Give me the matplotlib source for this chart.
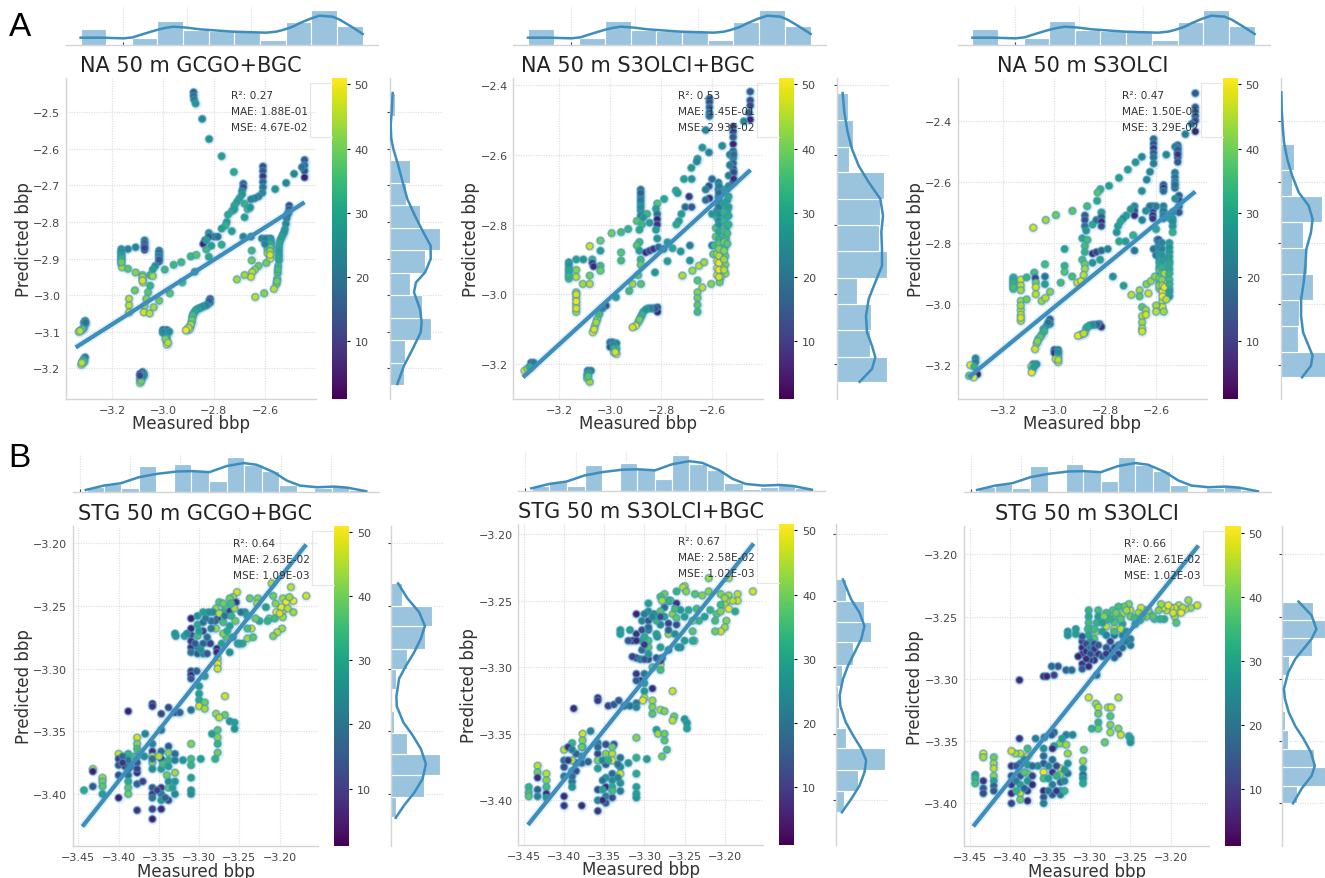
import matplotlib
matplotlib.use("Agg")
import matplotlib.pyplot as plt
from matplotlib.lines import Line2D
import numpy as np

W, H = 1325, 879

# ---------- shared marginal data (measured bbp) ----------
NA_TOP_EDGES = [-3.334, -3.254, -3.173, -3.093, -3.012, -2.932, -2.851, -2.771, -2.690, -2.610, -2.529, -2.448]
NA_TOP_COUNTS = [48, 0, 20, 73, 45, 43, 42, 14, 70, 104, 58]
NA_TOP_KDE_X = [-3.334, -3.272, -3.199, -3.170, -3.147, -3.120, -3.095, -3.070, -3.043, -3.000, -2.959, -2.855,
                -2.751, -2.720, -2.699, -2.670, -2.647, -2.615, -2.584, -2.543, -2.520, -2.501, -2.475, -2.448]
NA_TOP_KDE_Y = [22, 22, 20, 23, 30, 38, 45, 51, 55, 52, 47, 40, 37, 40, 45, 54, 65, 78, 88, 85, 76, 65, 50, 33]

STG_TOP_EDGES = [-3.443, -3.426, -3.409, -3.391, -3.374, -3.356, -3.339, -3.321, -3.304, -3.287,
                 -3.269, -3.252, -3.234, -3.217, -3.199, -3.182, -3.164]
STG_TOP_COUNTS = [15, 25, 14, 77, 2, 83, 67, 33, 105, 80, 62, 22, 5, 12, 20, 7]
STG_TOP_KDE_X = [-3.444, -3.426, -3.409, -3.391, -3.373, -3.353, -3.338, -3.321, -3.304, -3.287, -3.274,
                 -3.257, -3.244, -3.231, -3.214, -3.197, -3.184, -3.165]
STG_TOP_KDE_Y = [7, 20, 27, 45, 55, 62, 63, 60, 78, 87, 82, 60, 35, 20, 15, 17, 14, 3]

NA_XLIM = (-3.38, -2.40)
STG_XLIM = (-3.457, -3.152)
NA_XTICKS = [-3.2, -3.0, -2.8, -2.6]
STG_XTICKS = [-3.45, -3.40, -3.35, -3.30, -3.25, -3.20]
CBAR_TICKS = [10, 20, 30, 40, 50]

# ---------- panel 1: NA GCGO+BGC ----------
P1_TITLE = "NA 50 m GCGO+BGC"
P1_STATS = ["R\u00b2: 0.27", "MAE: 1.88E-01", "MSE: 4.67E-02"]
P1_YLIM = (-3.284, -2.406)
P1_YTICKS = [-3.2, -3.1, -3.0, -2.9, -2.8, -2.7, -2.6, -2.5]
P1_REG_X = [-3.342, -2.445]
P1_REG_Y = [-3.143, -2.746]
P1_RIGHT_EDGES = [-3.2457, -3.1843, -3.1229, -3.0614, -3.0000, -2.9386, -2.8771, -2.8157, -2.7543, -2.6929, -2.6314, -2.5700, -2.5086, -2.4470]
P1_RIGHT_COUNTS = [42, 45, 122, 95, 60, 104, 150, 91, 48, 60, 0, 0, 14]
P1_KDE_Y = [-3.243, -3.193, -3.147, -3.102, -3.074, -3.038, -2.992, -2.965, -2.938, -2.901, -2.865, -2.828, -2.783,
            -2.737, -2.691, -2.646, -2.600, -2.573, -2.536, -2.500, -2.447]
P1_KDE_X = [22, 42, 68, 92, 95, 90, 72, 78, 105, 122, 122, 100, 75, 52, 38, 25, 10, 4, 2, 5, 8]
P1_PTS = [(-2.88,-2.445,15),(-2.88,-2.455,18),(-2.878,-2.465,22),(-2.872,-2.476,28),(-2.846,-2.518,25),(-2.819,-2.573,27),
(-2.77,-2.62,30),(-2.722,-2.663,32),(-2.608,-2.648,12),(-2.608,-2.66,15),(-2.608,-2.675,8),(-2.608,-2.69,18),(-2.608,-2.705,20),
(-2.61,-2.72,25),(-2.625,-2.73,24),(-2.64,-2.735,22),(-2.655,-2.738,24),(-2.445,-2.63,15),(-2.445,-2.645,18),(-2.445,-2.66,12),
(-2.445,-2.678,5),(-2.455,-2.65,20),(-2.486,-2.668,24),(-2.517,-2.693,24),(-2.56,-2.71,28),(-2.685,-2.695,18),(-2.685,-2.705,10),
(-2.69,-2.715,25),(-2.69,-2.725,28),(-2.70,-2.735,30),(-2.71,-2.745,30),(-2.72,-2.755,32),(-2.73,-2.77,34),(-2.745,-2.78,32),
(-2.72,-2.765,30),(-2.68,-2.75,34),(-2.668,-2.765,35),(-2.658,-2.76,28),(-2.68,-2.787,30),(-2.75,-2.80,30),(-2.755,-2.81,34),
(-2.73,-2.825,30),(-2.77,-2.818,30),(-2.82,-2.83,28),(-2.80,-2.84,22),(-2.785,-2.84,20),(-2.82,-2.84,15),(-2.835,-2.85,6),
(-2.842,-2.86,5),(-2.83,-2.85,30),(-2.81,-2.865,30),(-2.83,-2.875,35),(-2.77,-2.862,33),(-2.82,-2.895,32),(-2.685,-2.84,24),
(-2.655,-2.84,25),(-2.612,-2.845,22),(-2.505,-2.755,12),(-2.505,-2.765,14),(-2.508,-2.775,18),(-2.515,-2.79,22),(-2.518,-2.805,25),
(-2.522,-2.82,28),(-2.53,-2.835,30),(-2.54,-2.85,30),(-2.545,-2.87,32),(-2.545,-2.89,30),(-2.545,-2.905,32),(-2.548,-2.92,35),
(-2.55,-2.94,37),(-2.552,-2.955,38),(-2.555,-2.97,42),(-2.565,-2.983,46),(-2.59,-2.845,22),(-2.578,-2.845,25),(-2.59,-2.855,28),
(-2.575,-2.855,30),(-2.59,-2.865,34),(-2.575,-2.865,38),(-2.59,-2.875,38),(-2.575,-2.875,42),(-2.59,-2.885,44),(-2.575,-2.885,46),
(-2.58,-2.895,48),(-2.58,-2.90,50),(-2.652,-2.878,35),(-2.652,-2.905,40),(-2.595,-2.912,40),(-2.625,-2.92,40),(-2.64,-2.93,43),
(-2.65,-2.937,46),(-2.655,-2.95,48),(-2.68,-2.945,44),(-2.71,-2.957,44),(-2.603,-2.995,42),(-2.638,-3.005,46),(-2.815,-3.01,12),
(-2.815,-3.02,18),(-2.825,-3.025,22),(-2.84,-3.03,26),(-2.855,-3.035,28),(-2.87,-3.04,30),(-2.88,-3.05,34),(-2.885,-3.06,38),
(-2.888,-3.075,42),(-2.893,-3.085,46),(-2.905,-3.095,48),(-2.895,-3.093,50),(-3.0,-3.095,12),(-2.985,-3.095,18),(-2.99,-3.10,8),
(-2.985,-3.105,25),(-2.985,-3.115,35),(-2.985,-3.125,44),(-2.985,-3.135,50),(-3.163,-2.874,25),(-3.163,-2.885,28),(-3.163,-2.895,32),
(-3.163,-2.905,38),(-3.163,-2.915,42),(-3.16,-2.924,44),(-3.137,-2.874,24),(-3.107,-2.869,24),(-3.072,-2.85,20),(-3.072,-2.858,14),
(-3.072,-2.866,8),(-3.072,-2.876,5),(-3.137,-2.928,38),(-3.107,-2.938,42),(-3.08,-2.945,42),(-3.08,-2.955,46),(-3.078,-2.965,50),
(-3.11,-2.987,40),(-3.133,-3.01,46),(-3.133,-3.028,46),(-3.133,-3.047,48),(-3.015,-2.878,16),(-3.015,-2.888,20),(-3.015,-2.898,22),
(-3.015,-2.908,10),(-3.03,-2.92,26),(-3.04,-2.93,30),(-3.05,-2.945,36),(-3.04,-2.948,44),(-3.05,-2.974,34),(-3.058,-2.992,38),
(-3.065,-3.01,42),(-3.072,-3.03,44),(-3.075,-3.047,48),(-3.052,-3.05,46),(-3.036,-3.033,44),(-3.015,-3.015,40),(-2.993,-2.93,35),
(-2.958,-2.917,35),(-2.928,-2.91,35),(-2.891,-2.894,35),(-2.869,-2.89,38),(-2.973,-2.995,38),(-2.924,-2.965,35),(-2.875,-2.936,30),
(-3.305,-3.07,22),(-3.305,-3.08,26),(-3.31,-3.09,34),(-3.32,-3.095,42),(-3.33,-3.10,48),(-3.305,-3.17,15),(-3.31,-3.175,28),
(-3.315,-3.18,40),(-3.32,-3.19,48),(-3.08,-3.21,12),(-3.075,-3.215,18),(-3.09,-3.215,6),(-3.08,-3.225,25),(-3.09,-3.23,35),(-3.09,-3.24,45),
(-2.818,-3.015,16),(-2.83,-3.028,24),(-2.848,-3.033,26),(-2.862,-3.037,30),(-2.875,-3.045,32),(-2.883,-3.055,36),(-2.886,-3.068,40),
(-2.89,-3.08,44),(-2.9,-3.09,48),(-2.91,-3.096,50),(-3.0,-3.103,20),(-3.0,-3.1,26),(-2.975,-3.1,26),(-2.99,-3.12,42),(-2.98,-3.13,46),
(-3.31,-3.075,24),(-3.315,-3.093,38),(-3.325,-3.098,46),(-3.303,-3.075,20),(-3.308,-3.182,36),(-3.318,-3.185,46),(-3.085,-3.22,20),
(-3.085,-3.235,40),(-3.075,-3.22,25),(-3.09,-3.22,10),(-2.513,-2.78,20),(-2.525,-2.828,28),(-2.535,-2.842,30),(-2.543,-2.86,32),
(-2.545,-2.88,30),(-2.546,-2.898,32),(-2.55,-2.93,36),(-2.553,-2.962,40),(-2.58,-2.85,30),(-2.58,-2.86,34),(-2.58,-2.87,40),
(-2.58,-2.88,44),(-2.58,-2.89,48),(-2.6,-2.846,22),(-2.6,-2.86,24),(-3.163,-2.88,26),(-3.163,-2.89,30),(-3.163,-2.9,34),(-3.163,-2.91,40),
(-3.08,-2.95,44),(-3.08,-2.96,48),(-3.072,-2.871,10),(-3.015,-2.883,18),(-3.015,-2.893,22),(-3.015,-2.903,14)]

# ---------- panel 2: NA S3OLCI+BGC ----------
P2_TITLE = "NA 50 m S3OLCI+BGC"
P2_STATS = ["R\u00b2: 0.53", "MAE: 1.45E-01", "MSE: 2.93E-02"]
P2_YLIM = (-3.299, -2.381)
P2_YTICKS = [-3.2, -3.0, -2.8, -2.6, -2.4]
P2_REG_X = [-3.342, -2.449]
P2_REG_Y = [-3.237, -2.644]
P2_RIGHT_EDGES = [-3.250, -3.178, -3.102, -3.026, -2.952, -2.875, -2.801, -2.728, -2.651, -2.577, -2.502, -2.424]
P2_RIGHT_COUNTS = [150, 100, 103, 60, 150, 125, 128, 140, 36, 47, 32]
P2_KDE_Y = [-3.250, -3.213, -3.180, -3.147, -3.108, -3.061, -3.013, -2.965, -2.918, -2.870, -2.822, -2.775, -2.727,
            -2.679, -2.632, -2.584, -2.536, -2.479, -2.424]
P2_KDE_X = [68, 105, 115, 105, 90, 87, 95, 115, 135, 135, 133, 138, 130, 95, 65, 45, 32, 22, 17]
P2_PTS = [(-2.45,-2.42,15),(-2.45,-2.445,12),(-2.45,-2.46,10),(-2.455,-2.48,15),(-2.45,-2.50,5),(-2.475,-2.505,24),
(-2.61,-2.44,15),(-2.61,-2.45,12),(-2.61,-2.465,16),(-2.61,-2.48,15),(-2.61,-2.49,18),(-2.625,-2.53,24),(-2.638,-2.58,28),
(-2.612,-2.594,24),(-2.657,-2.612,28),(-2.66,-2.62,25),(-2.681,-2.638,28),(-2.71,-2.67,30),(-2.68,-2.67,28),(-2.742,-2.703,32),
(-2.735,-2.71,30),(-2.788,-2.727,32),(-2.517,-2.52,8),(-2.517,-2.535,12),(-2.517,-2.55,15),(-2.517,-2.57,5),(-2.517,-2.59,18),
(-2.53,-2.60,22),(-2.517,-2.61,20),(-2.517,-2.625,15),(-2.517,-2.64,10),(-2.517,-2.655,3),(-2.517,-2.68,8),(-2.53,-2.63,22),
(-2.56,-2.575,26),(-2.60,-2.67,18),(-2.612,-2.69,12),(-2.625,-2.70,22),(-2.61,-2.725,6),(-2.625,-2.73,18),(-2.575,-2.68,22),
(-2.575,-2.70,15),(-2.575,-2.72,28),(-2.575,-2.74,24),(-2.56,-2.70,26),(-2.545,-2.70,30),(-2.54,-2.73,28),(-2.54,-2.76,30),
(-2.58,-2.76,24),(-2.60,-2.77,28),(-2.56,-2.75,34),(-2.535,-2.72,32),(-2.58,-2.78,34),(-2.56,-2.78,36),(-2.545,-2.78,30),
(-2.545,-2.81,32),(-2.565,-2.81,40),(-2.585,-2.81,38),(-2.60,-2.86,22),(-2.585,-2.835,40),(-2.565,-2.835,42),(-2.545,-2.84,36),
(-2.59,-2.86,36),(-2.57,-2.86,44),(-2.55,-2.865,38),(-2.595,-2.885,40),(-2.58,-2.885,48),(-2.56,-2.885,46),(-2.548,-2.89,40),
(-2.58,-2.905,50),(-2.565,-2.905,46),(-2.548,-2.915,42),(-2.58,-2.925,50),(-2.56,-2.925,48),(-2.548,-2.94,44),(-2.58,-2.945,50),
(-2.565,-2.95,44),(-2.57,-2.965,40),(-2.603,-2.97,42),(-2.88,-2.70,20),(-2.88,-2.72,18),(-2.88,-2.74,24),(-2.88,-2.76,28),
(-2.88,-2.775,22),(-2.815,-2.74,38),(-2.82,-2.755,30),(-2.815,-2.77,20),(-2.815,-2.785,5),(-2.815,-2.80,8),(-2.815,-2.84,28),
(-2.82,-2.815,30),(-2.855,-2.77,35),(-2.87,-2.78,28),(-2.845,-2.795,30),(-2.895,-2.79,38),(-2.875,-2.80,35),(-2.885,-2.815,32),
(-2.885,-2.85,35),(-2.895,-2.86,38),(-2.885,-2.875,30),(-2.88,-2.90,35),(-2.88,-2.915,40),(-2.89,-2.945,38),(-2.86,-2.88,6),
(-2.845,-2.875,10),(-2.83,-2.87,8),(-2.81,-2.865,18),(-2.79,-2.87,24),(-2.775,-2.851,30),(-2.755,-2.868,32),(-2.723,-2.877,28),
(-2.687,-2.86,22),(-2.687,-2.903,28),(-2.775,-2.905,30),(-2.824,-2.937,28),(-2.879,-2.97,38),(-2.912,-2.97,44),(-2.925,-2.99,36),
(-2.977,-3.008,30),(-3.016,-3.032,12),(-2.73,-2.79,30),(-2.72,-2.77,30),(-2.705,-2.75,18),(-2.68,-2.75,14),(-2.69,-2.72,8),
(-2.74,-2.80,32),(-2.716,-2.946,45),(-2.677,-2.932,44),(-2.651,-2.918,46),(-2.631,-2.908,44),(-2.657,-2.96,38),(-2.657,-2.994,42),
(-2.657,-3.01,40),(-2.657,-3.03,38),(-2.657,-3.05,36),(-2.638,-2.98,46),(-2.814,-3.037,8),(-2.814,-3.05,5),(-2.83,-3.04,20),
(-2.85,-3.04,26),(-2.87,-3.05,30),(-2.88,-3.065,36),(-2.89,-3.08,44),(-2.90,-3.09,50),(-2.912,-3.094,48),(-3.068,-3.108,50),
(-3.06,-3.09,46),(-3.05,-3.07,42),(-3.042,-3.056,36),(-3.03,-3.04,24),(-3.0,-3.137,18),(-2.99,-3.137,22),(-2.975,-3.14,24),
(-3.0,-3.15,12),(-2.975,-3.155,36),(-2.985,-3.165,46),(-2.975,-3.17,50),(-3.088,-3.218,18),(-3.075,-3.218,24),(-3.09,-3.23,34),
(-3.09,-3.24,42),(-3.08,-3.25,44),(-3.31,-3.195,14),(-3.31,-3.205,28),(-3.32,-3.21,40),(-3.336,-3.218,50),(-3.30,-3.195,22),
(-3.162,-2.908,26),(-3.162,-2.925,30),(-3.162,-2.94,34),(-3.162,-2.955,36),(-3.133,-2.90,30),(-3.133,-2.93,42),(-3.133,-2.95,46),
(-3.105,-2.90,28),(-3.07,-2.90,34),(-3.07,-2.91,10),(-3.065,-2.92,6),(-3.133,-2.994,44),(-3.133,-3.01,50),(-3.133,-3.03,50),
(-3.133,-3.05,44),(-3.08,-2.862,48),(-3.038,-2.846,40),(-3.038,-2.875,30),(-2.994,-2.825,40),(-2.957,-2.822,36),(-2.929,-2.813,34),
(-2.957,-2.88,38),(-2.957,-2.903,36),(-3.038,-2.918,36),(-3.038,-2.932,40),(-3.107,-2.97,44),(-3.08,-2.946,40),(-3.08,-2.97,46),
(-2.573,-2.69,22),(-2.573,-2.71,18),(-2.573,-2.73,26),(-2.573,-2.75,22),(-2.573,-2.77,26),(-2.573,-2.79,24),(-2.573,-2.80,28),
(-2.573,-2.82,32),(-2.573,-2.84,34),(-2.573,-2.855,38),(-2.573,-2.87,42),(-2.573,-2.89,46),(-2.573,-2.91,50),(-2.573,-2.93,50),
(-2.573,-2.95,48),(-2.553,-2.74,30),(-2.553,-2.765,34),(-2.553,-2.79,34),(-2.553,-2.82,36),(-2.553,-2.85,40),(-2.553,-2.875,42),
(-2.553,-2.90,44),(-2.553,-2.93,46),(-2.535,-2.66,22),(-2.535,-2.69,26),(-2.535,-2.75,30),(-2.535,-2.775,32),(-2.535,-2.80,34),
(-2.54,-2.825,36),(-2.54,-2.855,38),(-2.515,-2.60,18),(-2.515,-2.65,12),(-2.515,-2.67,6),(-3.162,-2.915,28),(-3.162,-2.932,32),
(-3.162,-2.948,34),(-3.133,-3.00,48),(-3.133,-3.02,50),(-3.133,-3.04,48),(-2.88,-2.71,16),(-2.88,-2.73,22),(-2.88,-2.75,26),
(-2.988,-3.145,24),(-2.985,-3.155,34),(-2.98,-3.165,48),(-3.063,-3.10,48),(-3.055,-3.08,44),(-3.086,-3.225,30),(-3.086,-3.235,38),
(-2.822,-3.04,14),(-2.84,-3.04,24),(-2.86,-3.043,28),(-2.875,-3.058,34),(-2.885,-3.072,40),(-3.325,-3.213,44),(-3.315,-3.208,34)]

# ---------- panel 3: NA S3OLCI ----------
P3_TITLE = "NA 50 m S3OLCI"
P3_STATS = ["R\u00b2: 0.47", "MAE: 1.50E-01", "MSE: 3.29E-02"]
P3_YLIM = (-3.311, -2.26)
P3_YTICKS = [-3.2, -3.0, -2.8, -2.6, -2.4]
P3_REG_X = [-3.337, -2.446]
P3_REG_Y = [-3.24, -2.632]
P3_RIGHT_EDGES = [-3.240, -3.156, -3.071, -2.986, -2.901, -2.816, -2.731, -2.646, -2.561, -2.477, -2.392, -2.307]
P3_RIGHT_COUNTS = [160, 52, 55, 97, 80, 68, 125, 35, 40, 5, 2]
P3_KDE_Y = [-3.240, -3.202, -3.169, -3.137, -3.093, -3.039, -2.984, -2.929, -2.875, -2.820, -2.766, -2.722, -2.678,
            -2.635, -2.580, -2.526, -2.471, -2.416, -2.362, -2.307]
P3_KDE_X = [65, 92, 97, 85, 68, 62, 62, 70, 75, 78, 92, 97, 85, 55, 35, 20, 10, 6, 3, 2]
P3_PTS = [(-2.446,-2.31,15),(-2.446,-2.356,14),(-2.446,-2.37,12),(-2.446,-2.385,16),(-2.446,-2.40,10),(-2.446,-2.435,5),
(-2.485,-2.444,22),(-2.46,-2.41,18),(-2.61,-2.46,18),(-2.61,-2.475,14),(-2.61,-2.49,8),(-2.61,-2.505,16),(-2.61,-2.52,20),
(-2.61,-2.54,22),(-2.515,-2.48,16),(-2.515,-2.49,10),(-2.515,-2.505,12),(-2.515,-2.52,6),(-2.525,-2.485,22),(-2.515,-2.535,14),
(-2.56,-2.511,25),(-2.656,-2.518,25),(-2.681,-2.536,28),(-2.711,-2.56,30),(-2.746,-2.587,30),(-2.624,-2.567,24),(-2.637,-2.593,24),
(-2.656,-2.63,26),(-2.785,-2.613,30),(-2.819,-2.624,34),(-2.83,-2.635,38),(-2.832,-2.662,32),(-2.871,-2.68,36),(-2.929,-2.695,38),
(-2.994,-2.709,40),(-3.034,-2.725,44),(-3.083,-2.75,48),(-2.526,-2.57,22),(-2.526,-2.585,20),(-2.526,-2.60,22),(-2.526,-2.62,18),
(-2.51,-2.645,15),(-2.51,-2.66,12),(-2.525,-2.655,26),(-2.51,-2.68,18),(-2.51,-2.70,14),(-2.571,-2.61,14),(-2.571,-2.62,5),
(-2.571,-2.63,18),(-2.571,-2.68,22),(-2.571,-2.70,24),(-2.571,-2.72,26),(-2.613,-2.68,16),(-2.613,-2.695,10),(-2.613,-2.71,5),
(-2.613,-2.72,8),(-2.60,-2.68,22),(-2.625,-2.68,20),(-2.64,-2.695,26),(-2.655,-2.725,24),(-2.685,-2.68,24),(-2.685,-2.695,12),
(-2.685,-2.71,6),(-2.70,-2.69,28),(-2.717,-2.71,30),(-2.73,-2.72,26),(-2.74,-2.73,32),(-2.75,-2.745,30),(-2.755,-2.765,28),
(-2.535,-2.70,26),(-2.545,-2.72,30),(-2.535,-2.745,28),(-2.535,-2.765,34),(-2.88,-2.71,15),(-2.88,-2.725,12),(-2.88,-2.745,20),
(-2.875,-2.76,28),(-2.89,-2.785,32),(-2.87,-2.79,36),(-2.85,-2.74,32),(-2.835,-2.725,20),(-2.815,-2.70,30),(-2.815,-2.715,15),
(-2.815,-2.73,6),(-2.815,-2.745,12),(-2.88,-2.81,36),(-2.88,-2.83,34),(-2.89,-2.855,36),(-2.88,-2.87,40),(-2.88,-2.885,44),
(-2.85,-2.835,6),(-2.835,-2.83,10),(-2.815,-2.825,18),(-2.79,-2.82,24),(-2.85,-2.865,28),(-2.82,-2.855,30),(-2.77,-2.91,26),
(-2.745,-2.795,32),(-2.72,-2.795,30),(-2.69,-2.775,34),(-2.685,-2.825,20),(-2.61,-2.82,20),(-2.60,-2.755,32),(-2.595,-2.79,24),
(-2.59,-2.79,12),(-2.59,-2.81,14),(-2.60,-2.84,20),(-2.587,-2.83,26),(-2.587,-2.855,30),(-2.587,-2.88,36),(-2.587,-2.905,44),
(-2.567,-2.85,26),(-2.567,-2.88,36),(-2.567,-2.905,46),(-2.567,-2.93,50),(-2.567,-2.96,50),(-2.567,-2.98,50),(-2.548,-2.80,30),
(-2.548,-2.83,28),(-2.548,-2.86,30),(-2.548,-2.885,32),(-2.548,-2.92,36),(-2.548,-2.95,34),(-2.548,-2.975,28),(-2.587,-2.93,40),
(-2.587,-2.95,42),(-2.575,-2.99,46),(-2.575,-3.01,48),(-2.57,-3.025,44),(-2.60,-3.005,44),(-2.60,-3.025,46),(-2.638,-2.935,42),
(-2.62,-2.925,44),(-2.605,-2.91,42),(-2.63,-2.965,48),(-2.665,-2.955,44),(-2.697,-2.97,46),(-2.665,-2.975,38),(-2.655,-3.01,38),
(-2.64,-3.02,44),(-2.655,-3.04,46),(-2.655,-3.06,44),(-2.655,-3.08,46),(-2.655,-3.09,48),(-2.64,-3.035,48),(-2.728,-2.94,30),
(-2.822,-3.066,16),(-2.815,-3.075,8),(-2.84,-3.068,24),(-2.861,-3.07,30),(-2.875,-3.08,36),(-2.88,-3.093,42),(-2.895,-3.10,48),
(-2.907,-3.104,50),(-3.017,-3.05,15),(-3.017,-3.065,20),(-3.03,-3.07,26),(-3.043,-3.082,32),(-3.05,-3.10,36),(-3.063,-3.115,40),
(-3.07,-3.13,44),(-3.076,-3.148,48),(-3.0,-3.15,14),(-2.985,-3.15,22),(-3.0,-3.16,8),(-2.985,-3.165,30),(-2.985,-3.175,42),
(-2.985,-3.19,50),(-2.995,-3.18,48),(-3.083,-3.197,22),(-3.07,-3.197,28),(-3.09,-3.205,44),(-3.085,-3.213,36),(-3.089,-3.224,50),
(-3.31,-3.178,24),(-3.31,-3.19,22),(-3.33,-3.20,50),(-3.315,-3.205,34),(-3.302,-3.23,5),(-3.317,-3.24,50),(-3.335,-3.235,40),
(-3.161,-2.913,34),(-3.161,-2.925,30),(-3.161,-2.938,36),(-3.161,-2.951,38),(-3.132,-2.92,48),(-3.132,-2.94,46),(-3.132,-2.955,44),
(-3.109,-2.913,34),(-3.079,-2.897,36),(-3.075,-2.915,10),(-3.073,-2.93,40),(-3.073,-2.945,48),(-3.073,-2.968,46),(-3.037,-2.87,36),
(-3.037,-2.91,20),(-3.037,-2.935,30),(-3.132,-2.99,44),(-3.132,-3.02,46),(-3.132,-3.035,48),(-3.132,-3.055,46),(-3.109,-2.985,40),
(-3.05,-2.99,44),(-3.035,-2.98,46),(-3.017,-2.96,42),(-2.975,-2.93,36),(-2.96,-2.82,30),(-2.96,-2.875,34),(-2.96,-2.895,38),
(-2.93,-2.91,36),(-2.91,-2.93,48),(-2.895,-2.925,50),(-2.885,-2.905,46),
(-2.587,-2.80,18),(-2.587,-2.815,22),(-2.587,-2.84,28),(-2.587,-2.865,32),(-2.587,-2.89,38),(-2.587,-2.915,42),(-2.587,-2.94,44),
(-2.577,-2.80,24),(-2.577,-2.82,24),(-2.577,-2.84,28),(-2.577,-2.86,30),(-2.577,-2.88,34),(-2.577,-2.90,38),(-2.577,-2.92,42),
(-2.575,-2.94,48),(-2.575,-2.96,50),(-2.575,-2.975,50),(-2.567,-2.90,44),(-2.567,-2.945,50),(-2.548,-2.815,28),(-2.548,-2.845,30),
(-2.548,-2.87,32),(-2.548,-2.90,34),(-2.548,-2.935,34),(-2.548,-2.96,30),(-2.56,-2.985,46),(-2.571,-2.695,22),(-2.571,-2.71,24),
(-2.535,-2.72,28),(-2.535,-2.73,26),(-2.526,-2.61,18),(-2.515,-2.495,14),(-2.515,-2.51,8),(-3.161,-2.919,32),(-3.161,-2.932,34),
(-3.161,-2.945,36),(-3.132,-3.005,44),(-3.132,-3.045,48),(-3.04,-3.09,34),(-3.055,-3.108,38),(-3.066,-3.122,42),(-3.024,-3.06,20),
(-2.83,-3.067,18),(-2.85,-3.068,26),(-2.87,-3.075,32),(-2.885,-3.097,46),(-2.985,-3.158,26),(-2.985,-3.183,46),(-3.08,-3.205,30)]

# ---------- panel 4: STG GCGO+BGC ----------
P4_TITLE = "STG 50 m GCGO+BGC"
P4_STATS = ["R\u00b2: 0.64", "MAE: 2.63E-02", "MSE: 1.09E-03"]
P4_YLIM = (-3.4417, -3.186)
P4_YTICKS = [-3.40, -3.35, -3.30, -3.25, -3.20]
P4_REG_X = [-3.445, -3.167]
P4_REG_Y = [-3.426, -3.201]
P4_RIGHT_EDGES = [-3.418, -3.402, -3.385, -3.368, -3.351, -3.334, -3.316, -3.300, -3.284, -3.266, -3.250, -3.232]
P4_RIGHT_COUNTS = [15, 98, 148, 48, 10, 2, 15, 48, 102, 124, 35]
P4_KDE_Y = [-3.419, -3.409, -3.399, -3.388, -3.376, -3.364, -3.353, -3.343, -3.330, -3.322, -3.308, -3.298, -3.287,
            -3.276, -3.266, -3.255, -3.244, -3.232]
P4_KDE_X = [15, 40, 70, 95, 105, 90, 65, 38, 18, 17, 25, 45, 70, 90, 102, 85, 50, 22]
P4_PTS = [(-3.167,-3.242,48),(-3.186,-3.235,46),(-3.183,-3.246,50),(-3.196,-3.244,44),(-3.192,-3.247,50),(-3.196,-3.254,46),
(-3.204,-3.255,50),(-3.183,-3.255,44),(-3.196,-3.259,44),(-3.213,-3.26,40),(-3.206,-3.26,36),(-3.225,-3.262,32),(-3.197,-3.268,44),
(-3.203,-3.271,46),(-3.208,-3.274,42),(-3.21,-3.232,46),(-3.208,-3.242,40),(-3.237,-3.244,40),(-3.227,-3.244,42),(-3.228,-3.248,46),
(-3.217,-3.251,30),(-3.23,-3.26,40),(-3.235,-3.268,48),(-3.24,-3.276,44),(-3.233,-3.275,38),(-3.246,-3.28,32),(-3.252,-3.28,28),
(-3.262,-3.287,26),(-3.253,-3.239,48),(-3.258,-3.243,44),(-3.262,-3.244,40),(-3.275,-3.247,38),(-3.279,-3.252,42),(-3.27,-3.255,34),
(-3.262,-3.254,10),(-3.283,-3.255,24),(-3.277,-3.26,8),(-3.27,-3.263,36),(-3.262,-3.266,30),(-3.279,-3.268,44),(-3.266,-3.275,38),
(-3.272,-3.28,30),(-3.289,-3.279,26),(-3.278,-3.284,6),(-3.254,-3.247,8),(-3.243,-3.255,28),(-3.248,-3.255,20),(-3.24,-3.258,30),
(-3.268,-3.25,38),(-3.275,-3.256,46),(-3.28,-3.262,16),(-3.27,-3.272,42),(-3.31,-3.26,5),(-3.31,-3.273,12),(-3.31,-3.283,8),
(-3.31,-3.287,20),(-3.302,-3.258,28),(-3.302,-3.265,32),(-3.302,-3.274,36),(-3.302,-3.283,24),(-3.302,-3.288,14),(-3.295,-3.255,30),
(-3.295,-3.263,18),(-3.295,-3.27,10),(-3.295,-3.28,16),(-3.295,-3.288,24),(-3.288,-3.255,26),(-3.285,-3.268,22),(-3.329,-3.274,28),
(-3.318,-3.274,30),(-3.31,-3.278,8),(-3.277,-3.292,46),(-3.277,-3.296,50),(-3.277,-3.30,48),(-3.278,-3.287,5),(-3.31,-3.302,10),
(-3.31,-3.305,6),(-3.31,-3.308,14),(-3.303,-3.302,16),(-3.293,-3.306,30),(-3.30,-3.314,28),(-3.30,-3.32,30),(-3.30,-3.325,32),
(-3.30,-3.33,48),(-3.293,-3.327,40),(-3.293,-3.332,44),(-3.31,-3.333,20),(-3.268,-3.322,48),(-3.279,-3.336,44),(-3.268,-3.337,40),
(-3.275,-3.339,46),(-3.262,-3.342,28),(-3.256,-3.343,30),(-3.256,-3.348,28),(-3.284,-3.352,30),(-3.277,-3.349,38),(-3.277,-3.355,42),
(-3.277,-3.36,34),(-3.277,-3.367,40),(-3.28,-3.372,34),(-3.358,-3.328,5),(-3.358,-3.33,8),(-3.347,-3.336,10),(-3.338,-3.331,12),
(-3.33,-3.335,14),(-3.324,-3.335,16),(-3.388,-3.334,5),(-3.367,-3.352,24),(-3.347,-3.349,20),(-3.377,-3.355,48),(-3.377,-3.36,42),
(-3.377,-3.364,36),(-3.377,-3.37,30),(-3.377,-3.375,14),(-3.388,-3.368,34),(-3.388,-3.373,20),(-3.392,-3.378,6),(-3.40,-3.368,48),
(-3.40,-3.372,10),(-3.40,-3.377,14),(-3.40,-3.385,12),(-3.40,-3.403,5),(-3.388,-3.385,20),(-3.388,-3.39,32),(-3.388,-3.395,38),
(-3.388,-3.40,40),(-3.377,-3.383,5),(-3.377,-3.392,16),(-3.377,-3.413,8),(-3.37,-3.39,10),(-3.432,-3.38,46),(-3.432,-3.382,5),
(-3.432,-3.394,14),(-3.42,-3.387,44),(-3.42,-3.39,40),(-3.42,-3.394,38),(-3.42,-3.40,30),(-3.443,-3.397,32),(-3.358,-3.36,24),
(-3.358,-3.366,8),(-3.358,-3.37,48),(-3.358,-3.375,42),(-3.358,-3.38,26),(-3.358,-3.395,14),(-3.358,-3.40,8),(-3.358,-3.403,20),
(-3.358,-3.412,10),(-3.358,-3.42,5),(-3.347,-3.366,18),(-3.347,-3.372,10),(-3.347,-3.38,30),(-3.347,-3.395,8),(-3.347,-3.40,22),
(-3.347,-3.405,28),(-3.347,-3.412,6),(-3.338,-3.362,14),(-3.338,-3.367,42),(-3.338,-3.373,34),(-3.338,-3.39,26),(-3.338,-3.395,38),
(-3.338,-3.405,12),(-3.33,-3.368,18),(-3.33,-3.373,22),(-3.33,-3.383,44),(-3.33,-3.39,28),(-3.33,-3.40,24),(-3.32,-3.373,28),
(-3.31,-3.36,42),(-3.31,-3.372,36),(-3.31,-3.377,34),(-3.31,-3.387,30),(-3.31,-3.397,28),(-3.31,-3.40,26),(-3.298,-3.372,30),
(-3.198,-3.251,50),(-3.19,-3.252,46),(-3.2,-3.256,48),(-3.188,-3.243,44),(-3.205,-3.248,42),(-3.215,-3.262,34),(-3.268,-3.258,20),
(-3.26,-3.258,34),(-3.255,-3.262,40),(-3.265,-3.27,32),(-3.258,-3.275,26),(-3.25,-3.28,30),(-3.24,-3.268,36),(-3.256,-3.252,44),
(-3.26,-3.248,36),(-3.27,-3.248,40),(-3.285,-3.262,20),(-3.292,-3.26,22),(-3.29,-3.275,18),(-3.286,-3.28,10),(-3.31,-3.268,6),
(-3.305,-3.28,14),(-3.3,-3.27,30),(-3.298,-3.285,26),(-3.29,-3.288,14),(-3.33,-3.272,28),(-3.315,-3.272,26),(-3.358,-3.372,20),
(-3.35,-3.37,46),(-3.345,-3.376,36),(-3.338,-3.378,30),(-3.352,-3.397,10),(-3.342,-3.403,16),(-3.34,-3.385,40),(-3.333,-3.395,30),
(-3.395,-3.37,18),(-3.395,-3.375,8),(-3.385,-3.378,22),(-3.38,-3.37,36),(-3.377,-3.38,10),(-3.368,-3.37,26),(-3.388,-3.38,16)]

# ---------- panel 5: STG S3OLCI+BGC ----------
P5_TITLE = "STG 50 m S3OLCI+BGC"
P5_STATS = ["R\u00b2: 0.67", "MAE: 2.58E-02", "MSE: 1.02E-03"]
P5_YLIM = (-3.4336, -3.1923)
P5_YTICKS = [-3.40, -3.35, -3.30, -3.25, -3.20]
P5_REG_X = [-3.445, -3.164]
P5_REG_Y = [-3.4185, -3.207]
P5_RIGHT_EDGES = [-3.409, -3.393, -3.377, -3.361, -3.346, -3.330, -3.314, -3.298, -3.281, -3.266, -3.250, -3.234]
P5_RIGHT_COUNTS = [24, 64, 148, 30, 8, 5, 18, 50, 104, 83, 30]
P5_KDE_Y = [-3.409, -3.399, -3.389, -3.379, -3.370, -3.361, -3.351, -3.341, -3.329, -3.321, -3.309, -3.299, -3.289,
            -3.279, -3.269, -3.259, -3.249, -3.234]
P5_KDE_X = [17, 45, 70, 85, 90, 75, 50, 28, 12, 10, 20, 35, 55, 75, 85, 70, 45, 20]
P5_PTS = [(-3.165,-3.243,48),(-3.184,-3.245,46),(-3.184,-3.25,48),(-3.195,-3.246,44),(-3.197,-3.25,50),(-3.2,-3.253,46),
(-3.205,-3.245,42),(-3.205,-3.253,36),(-3.187,-3.258,32),(-3.198,-3.265,42),(-3.2,-3.27,44),(-3.205,-3.273,48),(-3.212,-3.273,40),
(-3.195,-3.233,46),(-3.22,-3.233,44),(-3.22,-3.243,42),(-3.237,-3.245,38),(-3.228,-3.246,42),(-3.225,-3.262,30),(-3.218,-3.257,34),
(-3.21,-3.26,38),(-3.212,-3.265,36),(-3.232,-3.265,34),(-3.24,-3.265,44),(-3.235,-3.256,36),(-3.24,-3.273,38),(-3.238,-3.28,42),
(-3.25,-3.28,30),(-3.24,-3.28,32),(-3.255,-3.285,22),(-3.25,-3.239,48),(-3.252,-3.24,46),(-3.26,-3.243,34),(-3.248,-3.243,42),
(-3.268,-3.25,26),(-3.275,-3.245,40),(-3.28,-3.247,36),(-3.268,-3.25,44),(-3.26,-3.252,8),(-3.275,-3.255,18),(-3.28,-3.258,38),
(-3.265,-3.26,42),(-3.275,-3.262,30),(-3.27,-3.267,10),(-3.26,-3.268,12),(-3.28,-3.268,24),(-3.255,-3.257,28),(-3.245,-3.257,32),
(-3.27,-3.275,44),(-3.285,-3.265,34),(-3.284,-3.277,26),(-3.28,-3.285,30),(-3.27,-3.287,20),(-3.258,-3.285,28),(-3.31,-3.26,5),
(-3.31,-3.275,8),(-3.303,-3.265,24),(-3.303,-3.272,12),(-3.303,-3.28,30),(-3.303,-3.287,18),(-3.295,-3.252,30),(-3.295,-3.258,26),
(-3.295,-3.265,14),(-3.295,-3.272,20),(-3.295,-3.28,36),(-3.295,-3.285,38),(-3.295,-3.294,10),(-3.288,-3.26,26),(-3.285,-3.275,30),
(-3.33,-3.272,28),(-3.33,-3.275,30),(-3.318,-3.272,30),(-3.315,-3.28,6),(-3.32,-3.28,14),(-3.31,-3.293,8),(-3.305,-3.294,22),
(-3.285,-3.293,14),(-3.278,-3.293,16),(-3.28,-3.298,48),(-3.28,-3.302,36),(-3.28,-3.295,4),(-3.31,-3.305,8),(-3.305,-3.31,5),
(-3.31,-3.31,14),(-3.3,-3.305,20),(-3.29,-3.3,38),(-3.3,-3.312,30),(-3.3,-3.318,28),(-3.3,-3.323,46),(-3.302,-3.325,50),
(-3.29,-3.316,6),(-3.29,-3.325,44),(-3.29,-3.33,42),(-3.29,-3.335,38),(-3.31,-3.327,20),(-3.31,-3.33,24),(-3.265,-3.318,48),
(-3.28,-3.332,46),(-3.275,-3.333,42),(-3.263,-3.337,40),(-3.265,-3.34,46),(-3.25,-3.339,28),(-3.247,-3.342,28),(-3.247,-3.346,30),
(-3.285,-3.347,30),(-3.283,-3.35,44),(-3.275,-3.35,40),(-3.275,-3.355,38),(-3.272,-3.362,36),(-3.278,-3.367,40),(-3.358,-3.323,5),
(-3.358,-3.325,8),(-3.345,-3.329,10),(-3.338,-3.328,14),(-3.332,-3.325,14),(-3.325,-3.329,16),(-3.318,-3.329,20),(-3.388,-3.331,6),
(-3.367,-3.348,24),(-3.377,-3.35,48),(-3.377,-3.355,42),(-3.377,-3.36,36),(-3.378,-3.367,28),(-3.378,-3.372,18),(-3.385,-3.372,8),
(-3.385,-3.365,16),(-3.39,-3.357,34),(-3.39,-3.37,46),(-3.39,-3.378,38),(-3.39,-3.386,20),(-3.4,-3.362,46),(-3.4,-3.37,18),
(-3.4,-3.375,12),(-3.4,-3.382,20),(-3.4,-3.397,6),(-3.4,-3.404,8),(-3.378,-3.404,6),(-3.395,-3.36,8),(-3.37,-3.371,16),
(-3.433,-3.374,46),(-3.433,-3.379,40),(-3.433,-3.383,6),(-3.433,-3.392,16),(-3.433,-3.397,24),(-3.422,-3.38,46),(-3.422,-3.385,42),
(-3.422,-3.39,36),(-3.422,-3.395,6),(-3.422,-3.398,28),(-3.444,-3.39,34),(-3.444,-3.394,36),(-3.444,-3.397,38),(-3.358,-3.357,22),
(-3.358,-3.365,10),(-3.358,-3.37,42),(-3.358,-3.376,30),(-3.358,-3.392,12),(-3.358,-3.4,24),(-3.358,-3.408,8),(-3.348,-3.358,12),
(-3.348,-3.365,42),(-3.348,-3.373,14),(-3.348,-3.383,28),(-3.348,-3.39,6),(-3.348,-3.397,22),(-3.348,-3.402,14),(-3.338,-3.358,12),
(-3.34,-3.365,46),(-3.34,-3.37,50),(-3.34,-3.38,18),(-3.34,-3.39,32),(-3.34,-3.398,12),(-3.33,-3.368,20),(-3.33,-3.375,24),
(-3.33,-3.38,48),(-3.33,-3.387,26),(-3.33,-3.393,22),(-3.32,-3.372,28),(-3.31,-3.353,42),(-3.31,-3.368,34),(-3.31,-3.38,32),
(-3.31,-3.39,30),(-3.31,-3.395,30),(-3.31,-3.398,28),(-3.297,-3.369,30),
(-3.19,-3.25,46),(-3.2,-3.248,44),(-3.195,-3.256,50),(-3.205,-3.258,42),(-3.26,-3.263,38),(-3.27,-3.25,34),(-3.278,-3.25,44),
(-3.262,-3.256,36),(-3.25,-3.262,30),(-3.27,-3.272,16),(-3.262,-3.275,26),(-3.28,-3.262,12),(-3.29,-3.262,24),(-3.295,-3.27,18),
(-3.3,-3.26,22),(-3.3,-3.277,32),(-3.3,-3.283,8),(-3.295,-3.29,28),(-3.31,-3.28,6),(-3.315,-3.292,10),(-3.3,-3.294,14),(-3.39,-3.362,22),
(-3.395,-3.37,8),(-3.385,-3.378,12),(-3.39,-3.382,18),(-3.39,-3.39,28),(-3.378,-3.36,40),(-3.358,-3.36,18),(-3.352,-3.37,24),(-3.352,-3.385,20),
(-3.352,-3.4,6),(-3.345,-3.37,34),(-3.34,-3.36,40),(-3.34,-3.385,26),(-3.34,-3.393,36),(-3.333,-3.373,20),(-3.333,-3.383,24),(-3.352,-3.392,30)]

# ---------- panel 6: STG S3OLCI ----------
P6_TITLE = "STG 50 m S3OLCI"
P6_STATS = ["R\u00b2: 0.66", "MAE: 2.61E-02", "MSE: 1.02E-03"]
P6_YLIM = (-3.4345, -3.1775)
P6_YTICKS = [-3.40, -3.35, -3.30, -3.25, -3.20]
P6_REG_X = [-3.4455, -3.1655]
P6_REG_Y = [-3.4185, -3.193]
P6_RIGHT_EDGES = [-3.400, -3.386, -3.371, -3.356, -3.341, -3.326, -3.311, -3.297, -3.282, -3.267, -3.253, -3.238]
P6_RIGHT_COUNTS = [45, 135, 98, 18, 8, 3, 2, 20, 92, 130, 95]
P6_KDE_Y = [-3.400, -3.388, -3.378, -3.370, -3.359, -3.348, -3.338, -3.327, -3.316, -3.308, -3.295, -3.284, -3.276,
            -3.268, -3.260, -3.249, -3.238]
P6_KDE_X = [33, 60, 90, 100, 88, 65, 40, 20, 8, 5, 18, 40, 65, 90, 105, 90, 50]
P6_PTS = [(-3.167,-3.241,48),(-3.175,-3.243,44),(-3.178,-3.237,44),(-3.182,-3.244,50),(-3.19,-3.241,46),(-3.192,-3.245,50),
(-3.195,-3.243,48),(-3.2,-3.243,50),(-3.205,-3.245,46),(-3.21,-3.243,48),(-3.212,-3.24,44),(-3.195,-3.25,44),(-3.193,-3.255,38),
(-3.208,-3.252,32),(-3.213,-3.252,34),(-3.22,-3.252,36),(-3.225,-3.248,40),(-3.23,-3.25,42),(-3.233,-3.245,46),(-3.237,-3.243,48),
(-3.24,-3.247,44),(-3.238,-3.253,34),(-3.244,-3.256,30),(-3.25,-3.245,46),(-3.252,-3.24,42),(-3.25,-3.25,40),(-3.258,-3.242,40),
(-3.26,-3.248,44),(-3.265,-3.242,36),(-3.265,-3.25,42),(-3.272,-3.245,38),(-3.272,-3.25,40),(-3.28,-3.247,36),(-3.28,-3.253,36),
(-3.26,-3.256,30),(-3.27,-3.255,38),(-3.28,-3.258,46),(-3.27,-3.26,50),(-3.29,-3.245,36),(-3.29,-3.25,30),(-3.292,-3.255,34),
(-3.293,-3.262,44),(-3.285,-3.262,30),(-3.295,-3.268,38),(-3.302,-3.245,34),(-3.302,-3.25,32),(-3.302,-3.255,36),(-3.3,-3.26,40),
(-3.302,-3.265,32),(-3.3,-3.27,28),(-3.328,-3.262,28),(-3.328,-3.265,28),(-3.318,-3.26,30),(-3.318,-3.264,30),(-3.28,-3.265,24),
(-3.27,-3.265,20),(-3.26,-3.265,24),(-3.25,-3.268,22),(-3.25,-3.273,20),(-3.258,-3.27,12),(-3.265,-3.273,18),(-3.275,-3.27,10),
(-3.275,-3.278,6),(-3.265,-3.28,10),(-3.28,-3.275,14),(-3.27,-3.283,16),(-3.31,-3.27,10),(-3.31,-3.275,6),(-3.31,-3.28,8),
(-3.305,-3.272,12),(-3.305,-3.278,6),(-3.3,-3.275,22),(-3.295,-3.272,10),(-3.295,-3.28,12),(-3.29,-3.28,8),(-3.295,-3.285,6),
(-3.3,-3.285,10),(-3.285,-3.282,14),(-3.315,-3.282,5),(-3.31,-3.288,8),(-3.31,-3.292,14),(-3.302,-3.29,6),(-3.33,-3.293,16),
(-3.323,-3.293,18),(-3.34,-3.29,14),(-3.348,-3.29,18),(-3.345,-3.297,10),(-3.358,-3.298,6),(-3.354,-3.298,5),(-3.388,-3.301,6),
(-3.292,-3.297,18),(-3.302,-3.315,48),(-3.293,-3.32,44),(-3.29,-3.323,46),(-3.29,-3.328,40),(-3.278,-3.323,46),(-3.274,-3.323,48),
(-3.265,-3.315,46),(-3.275,-3.33,38),(-3.275,-3.337,42),(-3.275,-3.343,44),(-3.29,-3.335,34),(-3.29,-3.34,40),(-3.298,-3.34,34),
(-3.265,-3.34,42),(-3.262,-3.345,48),(-3.252,-3.346,32),(-3.25,-3.348,30),(-3.25,-3.351,28),(-3.282,-3.351,40),(-3.33,-3.345,22),
(-3.345,-3.343,16),(-3.348,-3.345,14),(-3.357,-3.347,20),(-3.368,-3.348,22),(-3.388,-3.348,8),(-3.322,-3.345,24),(-3.338,-3.352,42),
(-3.345,-3.354,30),(-3.335,-3.348,30),(-3.33,-3.353,44),(-3.308,-3.357,40),(-3.358,-3.356,26),(-3.358,-3.362,18),(-3.358,-3.368,14),
(-3.358,-3.375,50),(-3.358,-3.38,36),(-3.358,-3.39,6),(-3.358,-3.395,14),(-3.358,-3.4,22),(-3.347,-3.356,6),(-3.347,-3.365,18),
(-3.347,-3.375,8),(-3.347,-3.385,22),(-3.347,-3.393,14),(-3.337,-3.372,50),(-3.337,-3.377,42),(-3.337,-3.383,16),(-3.337,-3.39,30),
(-3.337,-3.393,22),(-3.328,-3.36,44),(-3.328,-3.368,26),(-3.328,-3.376,20),(-3.309,-3.366,44),(-3.309,-3.372,28),(-3.309,-3.377,20),
(-3.309,-3.38,28),(-3.309,-3.384,32),(-3.378,-3.356,36),(-3.378,-3.362,48),(-3.378,-3.369,30),(-3.378,-3.376,42),(-3.378,-3.382,28),
(-3.378,-3.39,8),(-3.378,-3.398,6),(-3.387,-3.36,46),(-3.387,-3.368,20),(-3.387,-3.378,14),(-3.387,-3.385,30),(-3.387,-3.392,46),
(-3.387,-3.397,40),(-3.393,-3.36,44),(-3.398,-3.358,48),(-3.398,-3.37,8),(-3.398,-3.378,12),(-3.398,-3.385,8),(-3.398,-3.392,6),
(-3.398,-3.4,10),(-3.372,-3.385,6),(-3.365,-3.37,26),(-3.433,-3.36,48),(-3.433,-3.363,44),(-3.433,-3.382,8),(-3.433,-3.388,14),
(-3.433,-3.392,12),(-3.42,-3.363,40),(-3.42,-3.368,44),(-3.42,-3.372,46),(-3.42,-3.378,42),(-3.42,-3.382,30),(-3.42,-3.386,16),
(-3.42,-3.39,14),(-3.443,-3.377,30),(-3.443,-3.38,34),(-3.443,-3.384,36),
(-3.185,-3.243,46),(-3.187,-3.247,50),(-3.197,-3.247,48),(-3.203,-3.241,50),(-3.215,-3.245,42),(-3.222,-3.25,38),(-3.228,-3.245,44),
(-3.235,-3.25,38),(-3.245,-3.251,36),(-3.255,-3.245,44),(-3.262,-3.252,38),(-3.268,-3.247,40),(-3.275,-3.252,34),(-3.283,-3.25,42),
(-3.27,-3.262,36),(-3.262,-3.26,46),(-3.255,-3.262,26),(-3.285,-3.255,30),(-3.295,-3.26,36),(-3.303,-3.26,34),(-3.295,-3.276,8),
(-3.3,-3.28,12),(-3.305,-3.284,6),(-3.29,-3.273,14),(-3.27,-3.275,12),(-3.26,-3.275,18),(-3.255,-3.27,22),(-3.28,-3.28,8),
(-3.31,-3.266,14),(-3.352,-3.37,24),(-3.352,-3.38,30),(-3.352,-3.39,20),(-3.342,-3.37,12),(-3.342,-3.378,34),(-3.342,-3.39,8),
(-3.332,-3.373,28),(-3.332,-3.382,24),(-3.332,-3.39,34),(-3.382,-3.365,24),(-3.382,-3.375,38),(-3.382,-3.388,16),(-3.392,-3.37,14),
(-3.392,-3.382,22),(-3.392,-3.39,34),(-3.372,-3.37,18),(-3.372,-3.378,10)]

# ---------- geometry: (main, cbar, right marginal, top marginal) in pixels as l, r, t, b ----------
LAYOUT = [
    dict(main=(66, 316, 79, 400), cb=(332, 347), right=(390, 442), top=(66, 378, 8, 46), ylx=24, xly=424, ty=66),
    dict(main=(513.3, 763, 79, 400), cb=(779, 794), right=(837, 889), top=(513.3, 826, 8, 46), ylx=471, xly=424, ty=66),
    dict(main=(957.7, 1207, 79, 400), cb=(1222.7, 1238), right=(1280.7, 1332), top=(957.7, 1270, 8, 46), ylx=916, xly=424, ty=66),
    dict(main=(72.7, 318.3, 526.7, 847.3), cb=(333.7, 349.3), right=(390.7, 443), top=(72.7, 379.3, 455, 493.3), ylx=24, xly=872, ty=513),
    dict(main=(518.3, 763.3, 525, 846), cb=(779, 794.3), right=(836.3, 888), top=(518.3, 825, 453, 491.7), ylx=469, xly=870, ty=511),
    dict(main=(964, 1209.3, 527.3, 847.3), cb=(1225.3, 1240.7), right=(1282.3, 1333), top=(964, 1271, 455, 493.3), ylx=915, xly=872, ty=513),
]

LINE = "#3d8dbd"
BAR = "#9ac4de"
EDGE = "#d4d4d4"
GRID = "#e0e0e0"
TXT = "#444444"

fig = plt.figure(figsize=(W / 100, H / 100), dpi=100, facecolor="white")


def add_axes(l, r, t, b):
    return fig.add_axes([l / W, 1 - b / H, (r - l) / W, (b - t) / H])


def style(ax, visible):
    for name, sp in ax.spines.items():
        sp.set_visible(name in visible)
        sp.set_color(EDGE)
        sp.set_linewidth(1.0)
    ax.set_axisbelow(True)
    ax.grid(True, color=GRID, linestyle=(0, (1, 1)), linewidth=0.9)


def panel(lay, title, stats, xlim, xticks, ylim, yticks, pts, rx, ry,
          redges, rcounts, kde_y, kde_x, tedges, tcounts, tkx, tky):
    ml, mr, mt, mb = lay["main"]
    ax = add_axes(ml, mr, mt, mb)
    style(ax, ("left", "bottom"))
    x, y, c = np.array(pts).T
    ax.scatter(x, y, s=58, color=(0.62, 0.80, 0.90, 0.30), linewidths=0, zorder=2)
    sc = ax.scatter(x, y, c=c, cmap="viridis", vmin=1, vmax=51, s=25,
                    edgecolors=(0.27, 0.57, 0.73, 0.55), linewidths=1.2, zorder=3)
    ax.plot(rx, ry, color=LINE, lw=5.5, alpha=0.13, solid_capstyle="butt", zorder=4)
    ax.plot(rx, ry, color=LINE, lw=3, solid_capstyle="butt", zorder=5)
    ax.set_xlim(xlim)
    ax.set_ylim(ylim)
    ax.set_xticks(xticks)
    ax.set_yticks(yticks)
    ax.set_xticklabels([f"\u2212{abs(v):.{2 if len(xticks) > 4 else 1}f}" for v in xticks])
    ax.set_yticklabels([f"\u2212{abs(v):.{2 if ylim[1] < -3 else 1}f}" for v in yticks])
    ax.tick_params(length=0, labelsize=8, labelcolor=TXT, pad=4)
    ax.set_title(title, fontsize=15, color="#222222", pad=5)

    # colour bar
    cl, cr = lay["cb"]
    cax = add_axes(cl, cr, mt, mb)
    cb = fig.colorbar(sc, cax=cax)
    cb.outline.set_visible(False)
    cb.set_ticks(CBAR_TICKS)
    cax.tick_params(length=2.5, width=0.8, labelsize=8, labelcolor=TXT, pad=3)

    # frame fragment next to the colour bar
    for xs, ys in (((mr - 6, mr - 6), (mt + 5, mt + 59)),
                   ((mr - 6, cl), (mt + 5, mt + 5)),
                   ((mr - 6, cl), (mt + 59, mt + 59))):
        fig.add_artist(Line2D([v / W for v in xs], [1 - v / H for v in ys],
                              color="#e6e6e6", lw=0.8))
    for i, line in enumerate(stats):
        fig.text((mr - 85) / W, 1 - (mt + 17 + 16 * i) / H, line, fontsize=7.6,
                 color="#333333", va="center", ha="left", zorder=10)

    # right marginal
    rl, rr = lay["right"]
    axr = add_axes(rl, rr, mt, mb)
    style(axr, ("left",))
    axr.barh(redges[:-1], rcounts, height=np.diff(redges), align="edge", color=BAR,
             edgecolor="white", linewidth=0.8, zorder=2)
    axr.plot(kde_x, kde_y, color=LINE, lw=1.8, zorder=3)
    axr.set_xlim(0, 156)
    axr.set_ylim(ylim)
    axr.set_yticks(yticks)
    axr.set_xticks([])
    axr.tick_params(labelleft=False, length=2.5, width=0.8, direction="out", color="#444444")
    axr.grid(False, axis="x")

    # top marginal
    tl, tr, tt, tb = lay["top"]
    axt = add_axes(tl, tr, tt, tb)
    style(axt, ("bottom",))
    axt.bar(tedges[:-1], tcounts, width=np.diff(tedges), align="edge", color=BAR,
            edgecolor="white", linewidth=0.8, zorder=2)
    axt.plot(tkx, tky, color=LINE, lw=1.8, zorder=3)
    axt.set_xlim(xlim)
    axt.set_ylim(0, 114)
    axt.set_xticks(xticks)
    axt.set_yticks([])
    axt.tick_params(labelbottom=False, length=2.5, width=0.8, direction="in", color="#444444")
    axt.grid(False, axis="y")

    # axis labels
    fig.text((ml + mr) / 2 / W, 1 - lay["xly"] / H, "Measured bbp", fontsize=12, color="#333333",
             ha="center", va="center")
    fig.text(lay["ylx"] / W, 1 - (mt + mb) / 2 / H, "Predicted bbp", fontsize=12, color="#333333",
             ha="center", va="center", rotation=90)


panel(LAYOUT[0], P1_TITLE, P1_STATS, NA_XLIM, NA_XTICKS, P1_YLIM, P1_YTICKS, P1_PTS, P1_REG_X, P1_REG_Y,
      P1_RIGHT_EDGES, P1_RIGHT_COUNTS, P1_KDE_Y, P1_KDE_X, NA_TOP_EDGES, NA_TOP_COUNTS, NA_TOP_KDE_X, NA_TOP_KDE_Y)
panel(LAYOUT[1], P2_TITLE, P2_STATS, NA_XLIM, NA_XTICKS, P2_YLIM, P2_YTICKS, P2_PTS, P2_REG_X, P2_REG_Y,
      P2_RIGHT_EDGES, P2_RIGHT_COUNTS, P2_KDE_Y, P2_KDE_X, NA_TOP_EDGES, NA_TOP_COUNTS, NA_TOP_KDE_X, NA_TOP_KDE_Y)
panel(LAYOUT[2], P3_TITLE, P3_STATS, NA_XLIM, NA_XTICKS, P3_YLIM, P3_YTICKS, P3_PTS, P3_REG_X, P3_REG_Y,
      P3_RIGHT_EDGES, P3_RIGHT_COUNTS, P3_KDE_Y, P3_KDE_X, NA_TOP_EDGES, NA_TOP_COUNTS, NA_TOP_KDE_X, NA_TOP_KDE_Y)
panel(LAYOUT[3], P4_TITLE, P4_STATS, STG_XLIM, STG_XTICKS, P4_YLIM, P4_YTICKS, P4_PTS, P4_REG_X, P4_REG_Y,
      P4_RIGHT_EDGES, P4_RIGHT_COUNTS, P4_KDE_Y, P4_KDE_X, STG_TOP_EDGES, STG_TOP_COUNTS, STG_TOP_KDE_X, STG_TOP_KDE_Y)
panel(LAYOUT[4], P5_TITLE, P5_STATS, STG_XLIM, STG_XTICKS, P5_YLIM, P5_YTICKS, P5_PTS, P5_REG_X, P5_REG_Y,
      P5_RIGHT_EDGES, P5_RIGHT_COUNTS, P5_KDE_Y, P5_KDE_X, STG_TOP_EDGES, STG_TOP_COUNTS, STG_TOP_KDE_X, STG_TOP_KDE_Y)
panel(LAYOUT[5], P6_TITLE, P6_STATS, STG_XLIM, STG_XTICKS, P6_YLIM, P6_YTICKS, P6_PTS, P6_REG_X, P6_REG_Y,
      P6_RIGHT_EDGES, P6_RIGHT_COUNTS, P6_KDE_Y, P6_KDE_X, STG_TOP_EDGES, STG_TOP_COUNTS, STG_TOP_KDE_X, STG_TOP_KDE_Y)

fig.text(9 / W, 1 - 27 / H, "A", fontsize=24, family="Liberation Sans", ha="left", va="center", color="black")
fig.text(8 / W, 1 - 459 / H, "B", fontsize=24, family="Liberation Sans", ha="left", va="center", color="black")

fig.savefig("out.png", dpi=100)
